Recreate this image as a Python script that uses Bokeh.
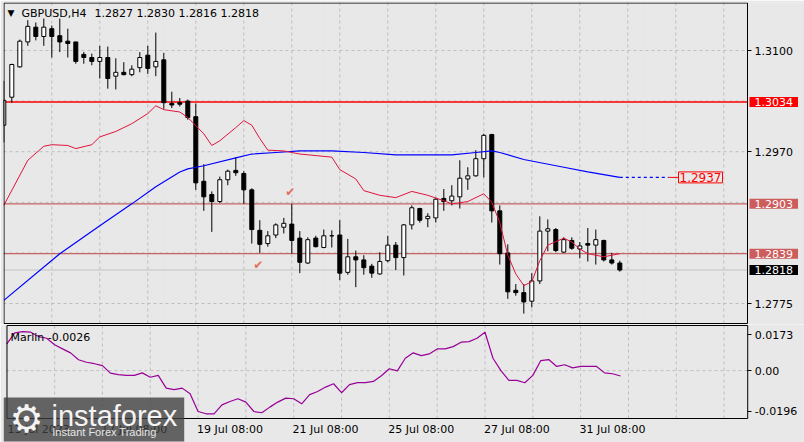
from bokeh.plotting import figure
from bokeh.models import Range1d, FixedTicker, Label, ColumnDataSource, PrintfTickFormatter
from bokeh.layouts import column
from bokeh.embed import file_html
from bokeh.resources import INLINE
from bokeh.core.properties import value

# ---------------- data ----------------
symbol_title = "GBPUSD,H4"
title_quote = "1.2827 1.2830 1.2816 1.2818"

opens = [
    1.3004, 1.3040, 1.3079, 1.3111, 1.3130, 1.3118, 1.3128, 1.3119, 1.3112, 1.3111,
    1.3095, 1.3091, 1.3086, 1.3091, 1.3067, 1.3072, 1.3069, 1.3078, 1.3094, 1.3079,
    1.3088, 1.3032, 1.3033, 1.3035, 1.3015, 1.2932, 1.2915, 1.2906, 1.2934, 1.2946,
    1.2942, 1.2921, 1.2869, 1.2852, 1.2863, 1.2873, 1.2877, 1.2859, 1.2827, 1.2859,
    1.2847, 1.2862, 1.2863, 1.2815, 1.2835, 1.2831, 1.2823, 1.2813, 1.2830, 1.2850,
    1.2834, 1.2876, 1.2897, 1.2884, 1.2885, 1.2910, 1.2907, 1.2912, 1.2935, 1.2939,
    1.2961, 1.2992, 1.2894, 1.2840, 1.2792, 1.2789, 1.2778, 1.2804, 1.2868, 1.2870,
    1.2841, 1.2856, 1.2845, 1.2852, 1.2850, 1.2856, 1.2831, 1.2827]
highs = [
    1.3061, 1.3083, 1.3114, 1.3139, 1.3136, 1.3141, 1.3132, 1.3141, 1.3128, 1.3111,
    1.3098, 1.3096, 1.3106, 1.3105, 1.3090, 1.3085, 1.3081, 1.3098, 1.3106, 1.3123,
    1.3097, 1.3047, 1.3039, 1.3037, 1.3032, 1.2954, 1.2919, 1.2938, 1.2947, 1.2963,
    1.2945, 1.2923, 1.2882, 1.2868, 1.2878, 1.2885, 1.2903, 1.2868, 1.2860, 1.2862,
    1.2870, 1.2869, 1.2882, 1.2858, 1.2843, 1.2837, 1.2826, 1.2841, 1.2862, 1.2854,
    1.2877, 1.2901, 1.2898, 1.2891, 1.2911, 1.2922, 1.2927, 1.2959, 1.2950, 1.2972,
    1.2993, 1.2993, 1.2901, 1.2851, 1.2800, 1.2800, 1.2814, 1.2887, 1.2883, 1.2872,
    1.2860, 1.2860, 1.2854, 1.2872, 1.2870, 1.2857, 1.2840, 1.2830]
lows = [
    1.2982, 1.3033, 1.3078, 1.3106, 1.3113, 1.3106, 1.3091, 1.3098, 1.3091, 1.3083,
    1.3083, 1.3081, 1.3064, 1.3051, 1.3050, 1.3068, 1.3067, 1.3072, 1.3070, 1.3067,
    1.3025, 1.3026, 1.3028, 1.3011, 1.2921, 1.2894, 1.2867, 1.2904, 1.2927, 1.2939,
    1.2903, 1.2852, 1.2840, 1.2848, 1.2859, 1.2865, 1.2839, 1.2814, 1.2826, 1.2847,
    1.2846, 1.2847, 1.2805, 1.2812, 1.2796, 1.2812, 1.2808, 1.2812, 1.2828, 1.2818,
    1.2811, 1.2870, 1.2879, 1.2873, 1.2879, 1.2894, 1.2901, 1.2897, 1.2921, 1.2938,
    1.2937, 1.2879, 1.2825, 1.2781, 1.2785, 1.2762, 1.2770, 1.2800, 1.2842, 1.2841,
    1.2840, 1.2844, 1.2833, 1.2829, 1.2825, 1.2829, 1.2825, 1.2816]
closes = [
    1.3036, 1.3082, 1.3112, 1.3131, 1.3118, 1.3130, 1.3118, 1.3111, 1.3109, 1.3086,
    1.3091, 1.3086, 1.3091, 1.3064, 1.3072, 1.3069, 1.3076, 1.3091, 1.3077, 1.3086,
    1.3033, 1.3030, 1.3031, 1.3014, 1.2930, 1.2912, 1.2906, 1.2934, 1.2945, 1.2943,
    1.2921, 1.2870, 1.2851, 1.2862, 1.2876, 1.2878, 1.2856, 1.2828, 1.2857, 1.2848,
    1.2862, 1.2862, 1.2814, 1.2835, 1.2831, 1.2821, 1.2814, 1.2829, 1.2850, 1.2834,
    1.2876, 1.2898, 1.2882, 1.2887, 1.2909, 1.2906, 1.2913, 1.2936, 1.2939, 1.2961,
    1.2991, 1.2894, 1.2839, 1.2790, 1.2789, 1.2777, 1.2804, 1.2868, 1.2871, 1.2843,
    1.2857, 1.2846, 1.2849, 1.2850, 1.2857, 1.2831, 1.2827, 1.2818]

# slow moving average (blue), read at its vertices
ma_slow_bars = [0, 7, 12, 16, 19, 22, 23, 25, 29, 31, 34, 37, 41, 45, 49, 56, 59, 61, 62, 65, 70, 73, 77]
ma_slow_vals = [1.2779, 1.2839, 1.2875, 1.2903, 1.2925, 1.2944, 1.2948, 1.2952, 1.2962, 1.2967, 1.2969,
                1.2971, 1.2971, 1.2969, 1.2966, 1.2966, 1.2969, 1.2971, 1.2969, 1.2960, 1.2950, 1.2944, 1.2937]
ma_slow_proj_bars = [77, 83.1]
ma_slow_last = 1.2937

# fast moving average (crimson), read at its vertices
ma_fast_bars = [0, 3, 5, 6, 8, 9, 11, 12, 14, 16, 18, 19, 20, 22, 23, 25, 26, 27, 29, 30, 31, 32, 33,
                35, 37, 41, 42, 44, 45, 47, 49, 51, 53, 55, 56, 58, 60, 61, 62, 63, 64, 65, 66, 67,
                68, 70, 71, 72, 73, 74, 75, 76, 77]
ma_fast_vals = [1.2901, 1.2959, 1.2977, 1.2979, 1.2978, 1.2974, 1.2979, 1.2989, 1.2996, 1.3006, 1.3019,
                1.3029, 1.3024, 1.3021, 1.3014, 1.2993, 1.2978, 1.2984, 1.3001, 1.3010, 1.3004, 1.2987,
                1.2972, 1.2971, 1.2967, 1.2963, 1.2947, 1.2935, 1.2920, 1.2914, 1.2911, 1.2919, 1.2914,
                1.2907, 1.2903, 1.2906, 1.2916, 1.2905, 1.2879, 1.2837, 1.2813, 1.2798, 1.2803, 1.2830,
                1.2850, 1.2859, 1.2854, 1.2845, 1.2839, 1.2837, 1.2835, 1.2837, 1.2839]

marlin_name = "Marlin"
marlin_vals = [
    0.0128, 0.0181, 0.0187, 0.0184, 0.0163, 0.0155, 0.0124, 0.0104, 0.0085, 0.0052,
    0.0040, 0.0033, 0.0024, -0.0012, -0.0019, -0.0023, -0.0023, -0.0011, -0.0032, -0.0023,
    -0.0084, -0.0091, -0.0084, -0.0111, -0.0196, -0.0207, -0.0207, -0.0164, -0.0148, -0.0135,
    -0.0151, -0.0196, -0.0202, -0.0175, -0.0151, -0.0132, -0.0135, -0.0159, -0.0115, -0.0100,
    -0.0079, -0.0063, -0.0106, -0.0067, -0.0058, -0.0058, -0.0052, -0.0025, 0.0009, -0.0001,
    0.0059, 0.0085, 0.0072, 0.0080, 0.0104, 0.0104, 0.0115, 0.0136, 0.0139, 0.0155,
    0.0184, 0.0059, 0.0000, -0.0047, -0.0047, -0.0058, -0.0023, 0.0048, 0.0053, 0.0020,
    0.0028, 0.0013, 0.0020, 0.0020, 0.0020, -0.0011, -0.0015, -0.0026]

level_strong = 1.3034
levels_weak = [1.2903, 1.2839]
last_price = 1.2818
check_bars = [35.8, 31.8]
check_prices = [1.2918, 1.2825]

price_ticks = [1.3100, 1.2970, 1.2775]
price_grid = [1.3100, 1.3035, 1.2970, 1.2905, 1.2840, 1.2775]
marlin_ticks = [0.0173, 0.0, -0.0196]
marlin_tick_labels = ["0.0173", "0.00", "-0.0196"]
marlin_grid = [0.0]
date_bars = [0, 12, 24, 36, 48, 60, 72]
date_labels = ["13 Jul 2023", "17 Jul 08:00", "19 Jul 08:00", "21 Jul 08:00",
               "25 Jul 08:00", "27 Jul 08:00", "31 Jul 08:00"]
grid_bars = list(range(6, 93, 6))

# ---------------- geometry / style ----------------
W, H = 804, 442
FL, FR = 3, 747            # pane border x (px)
T1, B1 = 2, 323            # main pane border y (px)
T2, B2 = 325, 418          # indicator pane border y (px)
SPLIT = 324                # canvas row where the second figure starts
BAR_PX, BAR0_PX = 8.0, 3.3
BG = "#E8E8E8"
FONT = "DejaVu Sans"
GRID = "#BDBDBD"


def bar_at(px):
    return (px - BAR0_PX) / BAR_PX


def price_at(py):
    return 1.3100 - (py - 50.0) / 7785.0


def marlin_at(py):
    return (370.1 - py) / 2086.7


common = dict(output_backend="svg", toolbar_location=None, background_fill_color=BG,
              border_fill_color=BG, outline_line_color=None, min_border_right=0)

p1 = figure(width=W, height=SPLIT, x_range=Range1d(bar_at(FL), bar_at(W)),
            y_range=Range1d(price_at(SPLIT), price_at(T1)),
            min_border_left=FL, min_border_top=T1, min_border_bottom=0,
            x_axis_location=None, y_axis_location="right", **common)
p2 = figure(width=W, height=H - SPLIT, x_range=Range1d(bar_at(0), bar_at(W)),
            y_range=Range1d(marlin_at(H), marlin_at(SPLIT)),
            min_border_left=0, min_border_top=0, min_border_bottom=0,
            x_axis_location="below", y_axis_location="right", **common)
p2.xgrid.visible = False
p2.ygrid.visible = False
p1.ygrid.visible = False


def style_axis(ax):
    ax.axis_line_color = None
    ax.major_tick_line_color = "black"
    ax.minor_tick_line_color = None
    ax.major_tick_in = 0
    ax.major_label_text_font = FONT
    ax.major_label_text_font_size = "11px"
    ax.major_label_text_color = "black"


# price axis, pinned to the pane's right border
ya = p1.yaxis[0]
style_axis(ya)
ya.fixed_location = bar_at(FR)
ya.ticker = FixedTicker(ticks=price_ticks)
ya.formatter = PrintfTickFormatter(format="%.4f")
ya.major_tick_out = 4
ya.major_label_standoff = 3

# indicator axis
ya2 = p2.yaxis[0]
style_axis(ya2)
ya2.fixed_location = bar_at(FR)
ya2.ticker = FixedTicker(ticks=marlin_ticks)
ya2.major_label_overrides = dict(zip(marlin_ticks, marlin_tick_labels))
ya2.major_tick_out = 4
ya2.major_label_standoff = 3

# time axis
xa = p2.xaxis[0]
style_axis(xa)
xa.fixed_location = marlin_at(B2)
label_pos = [b + 4.0 for b in date_bars]
xa.ticker = FixedTicker(ticks=label_pos)
xa.major_label_overrides = dict(zip(label_pos, date_labels))
xa.major_tick_out = 0
xa.major_label_standoff = 4

# dashed grids limited to the panes
xl, xr = bar_at(FL), bar_at(FR)
p1.segment(x0=grid_bars, x1=grid_bars, y0=[price_at(T1)] * len(grid_bars),
           y1=[price_at(B1)] * len(grid_bars), line_color=GRID, line_dash="3 3", line_width=1)
p1.segment(x0=[xl] * len(price_grid), x1=[xr] * len(price_grid), y0=price_grid, y1=price_grid,
           line_color=GRID, line_dash="3 3", line_width=1)
p2.segment(x0=grid_bars, x1=grid_bars, y0=[marlin_at(T2)] * len(grid_bars),
           y1=[marlin_at(B2)] * len(grid_bars), line_color=GRID, line_dash="3 3", line_width=1)
p2.segment(x0=[bar_at(FL)] * len(marlin_grid), x1=[bar_at(FR)] * len(marlin_grid),
           y0=marlin_grid, y1=marlin_grid, line_color=GRID, line_dash="3 3", line_width=1)

# level lines
p1.segment(x0=[xl], x1=[xr], y0=[last_price], y1=[last_price], line_color="#C4C4C4", line_width=1)
p1.segment(x0=[xl] * len(levels_weak), x1=[xr] * len(levels_weak), y0=levels_weak, y1=levels_weak,
           line_color="#C86464", line_width=1.2)
p1.segment(x0=[xl], x1=[xr], y0=[level_strong], y1=[level_strong], line_color="#FF0000", line_width=1.5)

# candles
n = len(opens)
bars = list(range(n))
src = ColumnDataSource(dict(x=bars, o=opens, h=highs, l=lows, c=closes,
                            top=[max(a, b) for a, b in zip(opens, closes)],
                            bot=[min(a, b) for a, b in zip(opens, closes)],
                            fill=["white" if c >= o else "black" for o, c in zip(opens, closes)]))
p1.segment(x0="x", y0="l", x1="x", y1="h", source=src, line_color="black", line_width=1)
p1.vbar(x="x", width=0.5, top="top", bottom="bot", source=src, fill_color="fill",
        line_color="black", line_width=1)

# indicator lines
p1.line(ma_slow_bars, ma_slow_vals, line_color="#0000FF", line_width=1.2)
p1.line(ma_slow_proj_bars, [ma_slow_last] * 2, line_color="#0000FF", line_width=1.2, line_dash="3 3")
p1.line(ma_fast_bars, ma_fast_vals, line_color="#E0143C", line_width=1)
p1.text(x=check_bars, y=check_prices, text=["\u2714"] * len(check_bars), text_color="#E5705A",
        text_font=value(FONT), text_font_size="12px", text_align="center", text_baseline="middle")

p2.line(bars, marlin_vals, line_color="#990099", line_width=1.2)

# pane borders
p1.quad(left=[bar_at(FL + 0.5)], right=[xr], top=[price_at(T1 + 0.5)], bottom=[price_at(B1)],
        fill_color=None, line_color="black", line_width=1)
p2.quad(left=[bar_at(FL + 0.5)], right=[bar_at(FR)], top=[marlin_at(T2)], bottom=[marlin_at(B2)],
        fill_color=None, line_color="black", line_width=1)


# ---------------- labels ----------------
def lab(fig, x, y, text, **kw):
    args = dict(x=x, y=y, text=text, text_font=FONT, text_font_size="11px",
                text_align="left", text_baseline="middle", text_color="black")
    args.update(kw)
    fig.add_layout(Label(**args))


lab(p1, bar_at(7), price_at(12.5), "\u25bc", text_font_size="9px")
lab(p1, bar_at(21), price_at(12.5), symbol_title)
lab(p1, bar_at(94), price_at(12.5), title_quote)

box_pad = dict(left=5, right=5, top=1, bottom=1)
lab(p1, bar_at(749), level_strong, f"{level_strong:.4f}", text_color="white",
    background_fill_color="#FF0000", padding=box_pad)
for lv in levels_weak:
    lab(p1, bar_at(749), lv, f"{lv:.4f}", text_color="white",
        background_fill_color="#CD5C5C", padding=box_pad)
lab(p1, bar_at(749), last_price, f"{last_price:.4f}", text_color="white",
    background_fill_color="black", padding=box_pad)

p1.line([ma_slow_proj_bars[1], bar_at(678)], [ma_slow_last] * 2, line_color="#FF0000", line_width=1)
lab(p1, bar_at(678), ma_slow_last, f"{ma_slow_last:.4f}", text_color="#FF0000",
    text_font_size="12px", border_line_color="#FF0000", background_fill_color=BG,
    padding=dict(left=1, right=1, top=1, bottom=1))

lab(p2, bar_at(7), marlin_at(336.5), f"{marlin_name} {marlin_vals[-1]:.4f}")

# watermark
lab(p2, bar_at(0), marlin_at(397), "instaforex", text_font="Liberation Sans",
    text_font_size="29px", text_color="#F4F4F4", text_baseline="top",
    background_fill_color="#3E3E3E", background_fill_alpha=0.78,
    padding=dict(left=48, right=7, top=2, bottom=10))
lab(p2, bar_at(49), marlin_at(431.5), "Instant Forex Trading", text_font="Liberation Sans",
    text_font_size="11px", text_color="#E6E6E6")
lab(p2, bar_at(6), marlin_at(418), "\u2699", text_font_size="38px", text_color="#F4F4F4")

layout = column(p1, p2, spacing=0)
open("out.html", "w").write(file_html(layout, INLINE, title="GBPUSD H4"))
